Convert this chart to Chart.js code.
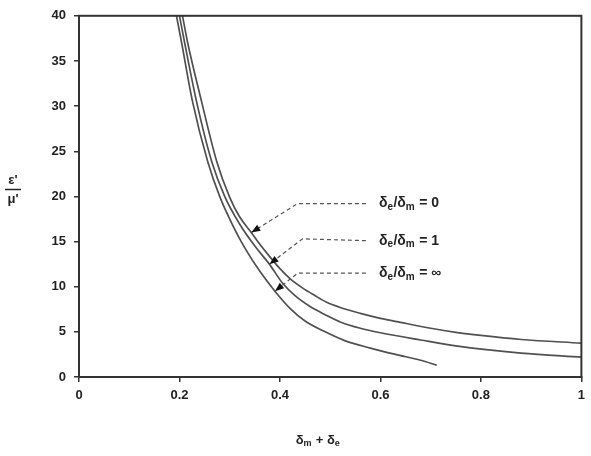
<!DOCTYPE html>
<html>
<head>
<meta charset="utf-8">
<script src="https://cdn.jsdelivr.net/npm/chart.js@4"></script>
<style>
  html, body { margin: 0; padding: 0; background: #fff; }
</style>
</head>
<body>
<canvas id="myChart" width="591" height="456"></canvas>
<script>
// curve δe/δm = 0
const xZero = [0.206, 0.216, 0.244, 0.274, 0.30, 0.319, 0.343, 0.36, 0.38, 0.40, 0.42, 0.444, 0.47, 0.492, 0.52, 0.56, 0.60, 0.64, 0.70, 0.75, 0.80, 0.88, 1.0];
const yZero = [40, 37.1, 30.5, 23.9, 19.9, 17.8, 16.0, 14.7, 13.3, 12.0, 10.9, 9.9, 9.0, 8.3, 7.7, 7.05, 6.5, 6.05, 5.4, 4.95, 4.6, 4.15, 3.75];
// curve δe/δm = 1
const xOne = [0.200, 0.210, 0.234, 0.264, 0.29, 0.319, 0.35, 0.379, 0.405, 0.43, 0.46, 0.49, 0.52, 0.56, 0.60, 0.68, 0.75, 0.88, 1.0];
const yOne = [40, 37.1, 30.5, 23.9, 20.0, 17.0, 14.5, 12.5, 10.4, 9.0, 7.8, 6.9, 6.1, 5.4, 4.9, 4.1, 3.45, 2.65, 2.2];
// curve δe/δm = ∞
const xInf = [0.194, 0.204, 0.226, 0.256, 0.28, 0.306, 0.33, 0.36, 0.39, 0.42, 0.45, 0.49, 0.53, 0.58, 0.63, 0.68, 0.712];
const yInf = [40, 37.1, 30.5, 23.9, 20.0, 16.8, 14.3, 11.7, 9.5, 7.6, 6.2, 5.0, 4.0, 3.2, 2.5, 1.85, 1.32];

const ratioLabels = ['0', '1', '∞'];
const xTicks = [0, 0.2, 0.4, 0.6, 0.8, 1];
const yTicks = [0, 5, 10, 15, 20, 25, 30, 35, 40];

function pts(xs, ys) {
  return xs.map((x, i) => ({ x: x, y: ys[i] }));
}

// leader lines: text anchor, knee, arrow tip (data coords)
const leaders = [
  { text: [0.597, 19.2], knee: [0.435, 19.2], tip: [0.343, 16.0] },
  { text: [0.597, 15.1], knee: [0.445, 15.3], tip: [0.379, 12.5] },
  { text: [0.597, 11.5], knee: [0.435, 11.5], tip: [0.390, 9.5] }
];

const FONT = '"Liberation Sans", Arial, sans-serif';

function drawParts(ctx, parts, x, y, big, small) {
  let cx = x;
  parts.forEach(p => {
    ctx.font = 'bold ' + (p.sub ? small : big) + 'px ' + FONT;
    ctx.fillText(p.t, cx, y + (p.sub ? 4 : 0));
    cx += ctx.measureText(p.t).width + (p.sub ? 0.5 : 0);
  });
  return cx - x;
}

function partsWidth(ctx, parts, big, small) {
  let w = 0;
  parts.forEach(p => {
    ctx.font = 'bold ' + (p.sub ? small : big) + 'px ' + FONT;
    w += ctx.measureText(p.t).width + (p.sub ? 0.5 : 0);
  });
  return w;
}

const decorPlugin = {
  id: 'decor',
  afterDatasetsDraw(chart) {
    const ctx = chart.ctx;
    const a = chart.chartArea;
    const xs = chart.scales.x, ys = chart.scales.y;
    ctx.save();

    // frame
    ctx.strokeStyle = '#333';
    ctx.lineWidth = 2;
    ctx.strokeRect(a.left, a.top, a.right - a.left, a.bottom - a.top);

    // leaders
    leaders.forEach((l, i) => {
      const tx = xs.getPixelForValue(l.text[0]);
      const ty = ys.getPixelForValue(l.text[1]);
      const kx = xs.getPixelForValue(l.knee[0]);
      const ky = ys.getPixelForValue(l.knee[1]);
      const px = xs.getPixelForValue(l.tip[0]);
      const py = ys.getPixelForValue(l.tip[1]);
      ctx.strokeStyle = '#555';
      ctx.lineWidth = 1.2;
      ctx.setLineDash([4, 3]);
      ctx.beginPath();
      ctx.moveTo(tx - 13, ty);
      ctx.lineTo(kx, ky);
      ctx.lineTo(px, py);
      ctx.stroke();
      ctx.setLineDash([]);
      // arrow head
      const ang = Math.atan2(py - ky, px - kx);
      const len = 9, half = 3.5;
      ctx.fillStyle = '#111';
      ctx.beginPath();
      ctx.moveTo(px, py);
      ctx.lineTo(px - len * Math.cos(ang) + half * Math.sin(ang), py - len * Math.sin(ang) - half * Math.cos(ang));
      ctx.lineTo(px - len * Math.cos(ang) - half * Math.sin(ang), py - len * Math.sin(ang) + half * Math.cos(ang));
      ctx.closePath();
      ctx.fill();
      // label
      ctx.fillStyle = '#222';
      ctx.textAlign = 'left';
      ctx.textBaseline = 'middle';
      drawParts(ctx, [
        { t: 'δ' }, { t: 'e', sub: true }, { t: '/δ' }, { t: 'm', sub: true }, { t: ' = ' + ratioLabels[i] }
      ], tx, ty, 14, 10);
    });

    // x axis title
    ctx.fillStyle = '#222';
    ctx.textBaseline = 'middle';
    ctx.textAlign = 'left';
    const xt = [{ t: 'δ' }, { t: 'm', sub: true }, { t: ' + δ' }, { t: 'e', sub: true }];
    const w = partsWidth(ctx, xt, 13, 9);
    drawParts(ctx, xt, 318 - w / 2, 440, 13, 9);

    // y axis title (fraction)
    ctx.font = 'bold 13px ' + FONT;
    ctx.textAlign = 'center';
    ctx.fillText("ε'", 13, 180);
    ctx.fillText("μ'", 13, 199);
    ctx.strokeStyle = '#222';
    ctx.lineWidth = 1.5;
    ctx.beginPath();
    ctx.moveTo(5, 189.5);
    ctx.lineTo(21, 189.5);
    ctx.stroke();

    ctx.restore();
  }
};

const lineStyle = {
  showLine: true,
  borderColor: '#505050',
  borderWidth: 1.7,
  pointRadius: 0,
  cubicInterpolationMode: 'monotone',
  fill: false
};

const data = {
  datasets: [
    Object.assign({ label: 'δe/δm = 0', data: pts(xZero, yZero) }, lineStyle),
    Object.assign({ label: 'δe/δm = 1', data: pts(xOne, yOne) }, lineStyle),
    Object.assign({ label: 'δe/δm = ∞', data: pts(xInf, yInf) }, lineStyle)
  ]
};

const config = {
  type: 'scatter',
  data: data,
  options: {
    responsive: false,
    animation: false,
    layout: {
      padding: { top: 14, right: 8, left: 0, bottom: 0 }
    },
    scales: {
      x: {
        type: 'linear',
        min: 0,
        max: 1,
        afterBuildTicks: axis => { axis.ticks = xTicks.map(v => ({ value: v })); },
        afterFit: axis => { axis.height = 79; },
        ticks: {
          color: '#222',
          padding: 6,
          font: { family: FONT, size: 13, weight: 'bold' },
          callback: v => String(Number(v.toFixed(1)))
        },
        grid: {
          drawOnChartArea: false,
          color: '#333',
          tickLength: 5,
          lineWidth: 1.5
        },
        border: { color: '#333', width: 2 }
      },
      y: {
        type: 'linear',
        min: 0,
        max: 40,
        afterBuildTicks: axis => { axis.ticks = yTicks.map(v => ({ value: v })); },
        afterFit: axis => { axis.width = 79; },
        ticks: {
          color: '#222',
          padding: 8,
          font: { family: FONT, size: 13, weight: 'bold' }
        },
        grid: {
          drawOnChartArea: false,
          color: '#333',
          tickLength: 5,
          lineWidth: 1.5
        },
        border: { color: '#333', width: 2 }
      }
    },
    plugins: {
      legend: { display: false },
      tooltip: { enabled: false }
    }
  },
  plugins: [decorPlugin]
};

var myChart = new Chart(
  document.getElementById('myChart'),
  config
);
</script>
</body>
</html>
